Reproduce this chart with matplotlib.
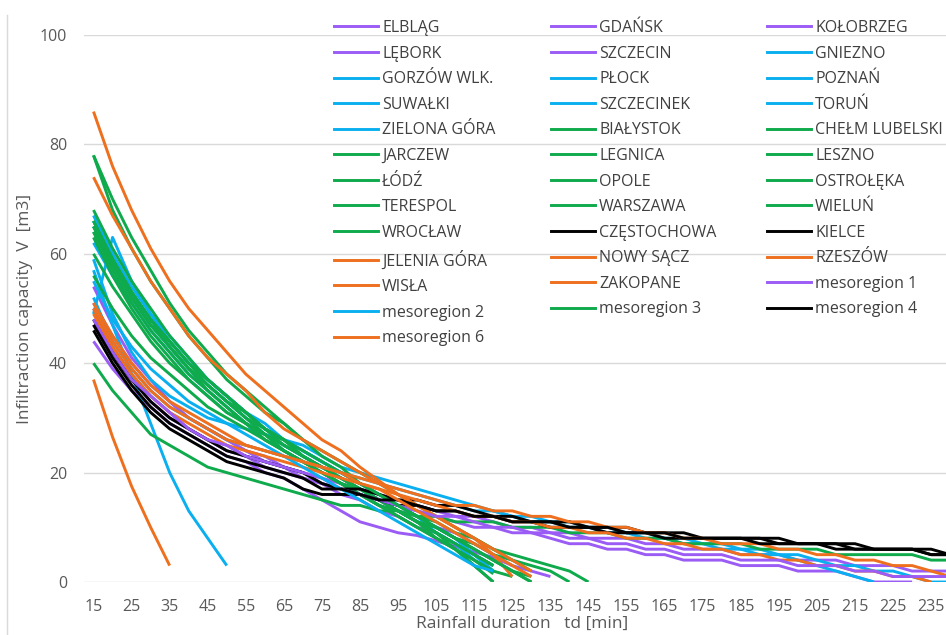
import matplotlib
matplotlib.use('Agg')
import matplotlib.pyplot as plt
from matplotlib.lines import Line2D

plt.rcParams['font.family'] = ['Open Sans', 'DejaVu Sans']

# ---------------- data ----------------
durations = list(range(15, 245, 5))          # rainfall duration td [min]
tick_labels = list(range(15, 240, 10))
y_ticks = [0, 20, 40, 60, 80, 100]

# purple group
elblag      = [47,42,37,33,30,28,26,25,23,22,21,20,19,18,17,16,15,14,13,12,12,11,10,10,9,9,8,8,8,7,7,6,6,6,5,5,5,4,4,4,3,3,3,2,2,2]
gdansk      = [54,47,41,37,33,30,28,26,24,22,21,19,18,16,15,13,12,10,9,7,5,3]
kolobrzeg   = [44,39,35,32,29,27,25,23,22,20,19,17,15,13,11,10,9,8.5,7.5,6.5,5.5,4.5,3,2,1]
lebork      = [50,43,38,34,31,28,26,24,23,21,20,19,18,17,16,15,14,13,12,11,10,10,9,9,8,7,7,6,6,5,5,4,4,4,3,3,3,2,2,2,1,0,0,0]
szczecin    = [51,45,40,36,33,30,28,26,24,23,21,20,18,17,16,14,13,12,10,9,7,5,3]
meso1       = [48,42,37,34,31,28,26,25,23,22,21,20,19,17,16,15,14,13,12,12,11,10,10,9,9,8,8,7,7,6,6,5,5,5,4,4,4,3,3,3,2,2,1,1,1,1]
# blue group
gniezno     = [67,60,54,49,45,41,37,34,31,28,26,24,22,20,18,16,14,12,10,8,5,2]
gorzow      = [66,59,53,48,44,40,37,34,31,29,26,24,22,20,18,16,14,12,9,7,4,2]
plock       = [49,63,55,49,44,40,37,34,31,28,26,24,22,20,18,16,14,12,10,8,5,2]
poznan      = [65,58,52,47,43,39,36,33,30,27,25,23,21,19,17,15,13,11,9,7,5,3]
suwalki     = [57,47,38,29,20,13,8,3]
szczecinek  = [59,49,42,37,34,32,30,29,28,27,26,25,23,21,20,19,18,17,16,15,14,13,12,12,11,11,10,10,9,9,8,8,7,7,6,6,5,5,4,3,3,2,2,1,0,0]
torun       = [62,56,51,46,42,38,35,32,29,27,25,23,21,19,17,15,13,11,9,7,4]
zielona     = [52,44,39,35,32,30,28,26,25,24,23,22,21,20,19,18,17,16,15,14,13,13,12,11,11,10,10,9,9,8,8,7,7,6,6,5,5,4,3,2,1,0]
meso2       = [55,48,43,39,36,33,31,29,27,25,23,21,19,17,15,13,11,9,7,5,3,2]
# green group
bialystok   = [78,68,61,55,50,45,41,37,34,31,29,26,24,22,20,18,16,14,12,10,8,6,4,2]
chelm       = [78,70,63,57,51,46,42,38,35,32,29,26,23,21,18,16,14,12,10,8,6,4,2,0]
jarczew     = [68,61,55,50,45,41,37,34,31,28,26,23,21,19,17,15,13,11,8,6,3,0]
legnica     = [66,59,53,48,44,40,37,34,31,28,26,23,21,19,17,15,13,11,9,7,5,3]
leszno      = [65,58,52,47,43,39,36,33,30,28,25,23,21,19,17,15,13,11,9,6,4,1.5]
lodz        = [64,57,51,46,42,38,35,32,29,27,24,22,20,18,16,14,12,10,8,6,3,0]
opole       = [63,56,50,45,41,37,34,31,29,26,24,22,20,18,16,14,13,11,10,8,7,5,4,3,2,0]
ostroleka   = [60,54,49,44,40,37,34,31,29,26,24,22,20,18,17,15,14,12,11,9,8,6,5,4,3,2,0]
terespol    = [56,50,45,41,38,35,32,30,28,26,24,22,20,18,16,15,13,11,10,8,6,4,2,0]
warszawa    = [65,59,53,48,43,39,36,33,30,27,25,23,21,19,17,15,13,11,9,7,5,3]
wielun      = [64,58,52,47,43,39,35,32,29,27,24,22,20,18,16,14,12,10,8,6,4,2,1]
wroclaw     = [40,35,31,27,25,23,21,20,19,18,17,16,15,14,14,13,13,12,12,11,11,11,10,10,10,9,9,9,8,8,8,7,7,7,7,6,6,6,6,5,5,5,5,5,4,4]
meso3       = [66,59,53,48,44,40,36,33,31,28,26,24,22,20,18,16,14,12,10,8,6,4,2,1]
# black group
czestochowa = [48,42,37,33,30,28,26,24,23,22,21,20,18,17,17,16,15,15,14,14,13,12,12,11,11,11,10,10,10,9,9,9,8,8,8,8,8,7,7,7,7,6,6,6,6,5]
kielce      = [46,40,35,31,28,26,24,22,21,20,19,17,16,16,16,15,14,14,13,13,12,12,11,11,10,10,10,9,9,9,8,8,8,8,8,8,7,7,7,7,6,6,6,6,5,5]
meso4       = [47,41,36,32,29,27,25,23,22,21,20,19,17,17,16,15,15,14,13,13,12,12,11,11,11,10,10,10,9,9,9,8,8,8,8,7,7,7,7,6,6,6,6,6,5,5]
# orange group
jelenia     = [51,45,40,36,33,31,29,27,25,24,23,22,21,20,19,18,17,16,15,14,14,13,13,12,12,11,11,10,10,9,9,8,8,7,7,7,6,6,5,5,4,4,3,3,2,1]
nowy_sacz   = [37,26.5,17.5,10,3]
rzeszow     = [49,43,38,34,31,29,27,25,24,23,22,21,20,19,18,17,16,15,14,13,12,12,11,11,10,10,9,9,8,8,7,7,6,6,5,5,4,4,3,3,2,2,1,1,0]
wisla       = [74,67,61,55,50,45,41,38,35,31,28,26,24,22,20,18,16,14,12,10,8,6,4,2]
zakopane    = [86,76,68,61,55,50,46,42,38,35,32,29,26,24,21,18.5,16,14,12,10,8,5,1]
meso6       = [50,44,39,35,32,30,28,26,25,24,23,22,21,20,18,17,15,13,11,9,7,5,3,1]

names = ['ELBLĄG', 'GDAŃSK', 'KOŁOBRZEG', 'LĘBORK', 'SZCZECIN', 'GNIEZNO',
         'GORZÓW WLK.', 'PŁOCK', 'POZNAŃ', 'SUWAŁKI', 'SZCZECINEK', 'TORUŃ',
         'ZIELONA GÓRA', 'BIAŁYSTOK', 'CHEŁM LUBELSKI', 'JARCZEW', 'LEGNICA', 'LESZNO',
         'ŁÓDŹ', 'OPOLE', 'OSTROŁĘKA', 'TERESPOL', 'WARSZAWA', 'WIELUŃ',
         'WROCŁAW', 'CZĘSTOCHOWA', 'KIELCE', 'JELENIA GÓRA', 'NOWY SĄCZ', 'RZESZÓW',
         'WISŁA', 'ZAKOPANE', 'mesoregion 1', 'mesoregion 2', 'mesoregion 3', 'mesoregion 4',
         'mesoregion 6']
series = [elblag, gdansk, kolobrzeg, lebork, szczecin, gniezno,
          gorzow, plock, poznan, suwalki, szczecinek, torun,
          zielona, bialystok, chelm, jarczew, legnica, leszno,
          lodz, opole, ostroleka, terespol, warszawa, wielun,
          wroclaw, czestochowa, kielce, jelenia, nowy_sacz, rzeszow,
          wisla, zakopane, meso1, meso2, meso3, meso4, meso6]
groups = ['P','P','P','P','P','B','B','B','B','B','B','B','B',
          'G','G','G','G','G','G','G','G','G','G','G','G',
          'K','K','O','O','O','O','O','P','B','G','K','O']

# ---------------- styling ----------------
group_colors = {'P': '#9A5CF4', 'B': '#0AAFEF', 'G': '#0EAA4C', 'K': '#000000', 'O': '#EE6F1E'}
W, H = 946, 635
fig = plt.figure(figsize=(W/100, H/100), dpi=100)
ax_left, ax_right, ax_top, ax_bot = 84, 946, 35, 582
ax = fig.add_axes([ax_left/W, 1-ax_bot/H, (ax_right-ax_left)/W, (ax_bot-ax_top)/H])

lw = 2.1
for name, vals, g in zip(names, series, groups):
    ax.plot(durations[:len(vals)], vals, color=group_colors[g], lw=lw,
            solid_joinstyle='round', solid_capstyle='butt', label=name, zorder=3)

ax.set_xlim(12.5, 238.9)
ax.set_ylim(0, 100)
ax.set_xticks(tick_labels)
ax.set_xticklabels([str(v) for v in tick_labels])
ax.set_yticks(y_ticks)
ax.tick_params(axis='both', length=0, labelsize=11.5, colors='#595959')
ax.tick_params(axis='y', pad=12)
ax.tick_params(axis='x', pad=12)
ax.grid(axis='y', color='#D9D9D9', lw=1.0, zorder=0)
ax.set_axisbelow(True)
for s in ax.spines.values():
    s.set_visible(False)

fig.text(522/W, 1-624/H, 'Rainfall duration   td [min]', ha='center', va='center',
         fontsize=12.5, color='#595959')
fig.text(25/W, 1-309/H, 'Infiltraction capacity  V  [m3]', ha='center', va='center',
         rotation=90, fontsize=12.5, color='#595959')

# chart-area border on the left
fig.add_artist(Line2D([7/W, 7/W], [0, 1-15/H], transform=fig.transFigure,
                      color='#D9D9D9', lw=1.0))

# legend, three columns filled row by row
fs = 11.5
fspx = fs * 100 / 72
handles = [Line2D([], [], color=group_colors[g], lw=lw) for g in groups]
col_x = [334, 551, 767]
for ci in range(3):
    idx = list(range(ci, len(names), 3))
    leg = fig.legend([handles[i] for i in idx], [names[i] for i in idx],
                     loc='upper left', bbox_to_anchor=(col_x[ci]/W, 1-20/H),
                     bbox_transform=fig.transFigure, frameon=False, fontsize=fs,
                     handlelength=44/fspx, handletextpad=4/fspx, labelspacing=0.6,
                     borderpad=0, borderaxespad=0)
    for txt in leg.get_texts():
        txt.set_color('#404040')

fig.savefig('out.png', dpi=100)
